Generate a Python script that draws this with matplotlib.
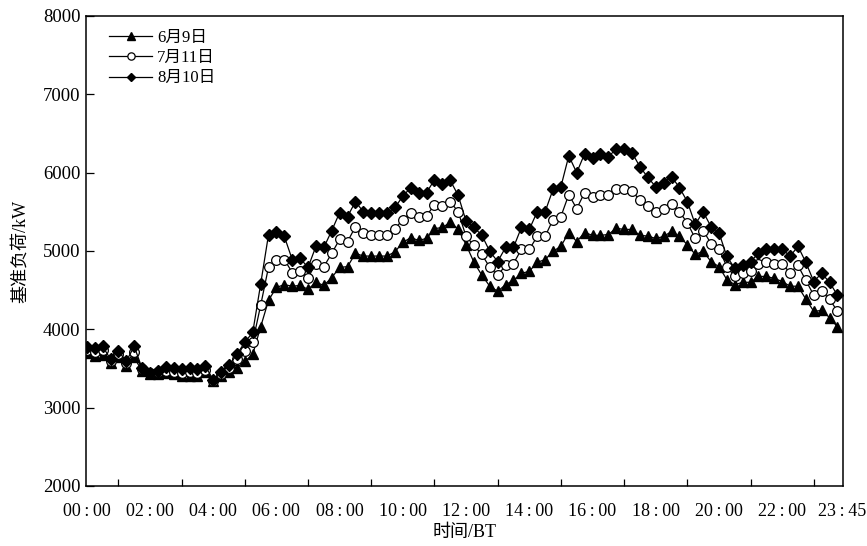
import matplotlib
matplotlib.use("Agg")
import matplotlib.pyplot as plt

plt.rcParams['font.family'] = ['Liberation Serif', 'Noto Sans CJK SC']

labels = ["6月9日", "7月11日", "8月10日"]

load_0609 = [3700, 3660, 3670, 3570, 3640, 3530, 3640, 3465, 3430, 3430, 3440, 3430,
             3400, 3410, 3400, 3450, 3340, 3400, 3450, 3510, 3590, 3680, 4030, 4370,
             4535, 4570, 4550, 4560, 4510, 4600, 4560, 4660, 4790, 4800, 4970, 4935,
             4935, 4935, 4935, 4990, 5110, 5170, 5135, 5160, 5285, 5300, 5365, 5280,
             5080, 4855, 4690, 4550, 4485, 4570, 4625, 4715, 4740, 4855, 4890, 4995,
             5060, 5235, 5120, 5235, 5200, 5200, 5210, 5290, 5275, 5275, 5200, 5190,
             5160, 5185, 5250, 5185, 5080, 4955, 4995, 4865, 4800, 4635, 4570, 4600,
             4600, 4675, 4675, 4650, 4610, 4550, 4550, 4385, 4230, 4240, 4150, 4030]

load_0711 = [3730, 3715, 3730, 3600, 3680, 3567, 3707, 3490, 3440, 3450, 3470, 3455,
             3440, 3450, 3440, 3480, 3345, 3430, 3500, 3620, 3720, 3835, 4305, 4795,
             4880, 4890, 4725, 4745, 4660, 4840, 4800, 4970, 5150, 5120, 5310, 5235,
             5210, 5210, 5210, 5285, 5400, 5490, 5440, 5450, 5590, 5580, 5630, 5500,
             5185, 5070, 4955, 4790, 4690, 4815, 4840, 5020, 5020, 5185, 5185, 5400,
             5440, 5720, 5540, 5745, 5695, 5720, 5710, 5795, 5790, 5770, 5645, 5570,
             5500, 5540, 5605, 5500, 5360, 5160, 5260, 5095, 5030, 4800, 4675, 4725,
             4740, 4830, 4855, 4840, 4830, 4725, 4815, 4625, 4435, 4485, 4385, 4230]

load_0810 = [3770, 3758, 3783, 3618, 3720, 3592, 3783, 3500, 3445, 3465, 3515, 3500,
             3490, 3500, 3490, 3530, 3355, 3450, 3540, 3680, 3835, 3960, 4575, 5210,
             5236, 5185, 4890, 4905, 4790, 5060, 5045, 5260, 5490, 5440, 5630, 5500,
             5490, 5480, 5480, 5555, 5700, 5810, 5735, 5745, 5910, 5850, 5900, 5710,
             5380, 5300, 5200, 4995, 4865, 5045, 5045, 5300, 5275, 5500, 5500, 5785,
             5820, 6215, 6000, 6240, 6190, 6240, 6200, 6305, 6305, 6255, 6075, 5940,
             5820, 5870, 5950, 5810, 5630, 5340, 5500, 5310, 5235, 4930, 4780, 4815,
             4865, 4970, 5030, 5030, 5030, 4930, 5060, 4855, 4610, 4715, 4600, 4435]

xtick_pos = [0, 8, 16, 24, 32, 40, 48, 56, 64, 72, 80, 88, 95.6]
xtick_labels = ["00\u2009:\u200900", "02\u2009:\u200900", "04\u2009:\u200900",
                "06\u2009:\u200900", "08\u2009:\u200900", "10\u2009:\u200900",
                "12\u2009:\u200900", "14\u2009:\u200900", "16\u2009:\u200900",
                "18\u2009:\u200900", "20\u2009:\u200900", "22\u2009:\u200900",
                "23\u2009:\u200945"]
yticks = [2000, 3000, 4000, 5000, 6000, 7000, 8000]

fig = plt.figure(figsize=(8.67, 5.46), dpi=100)
ax = fig.add_axes([0.0992, 0.110, 0.8731, 0.8607])

x = list(range(len(load_0609)))
ax.plot(x, load_0609, '-', color='black', lw=0.9, marker='^', ms=7,
        mfc='black', mec='black', label=labels[0])
ax.plot(x, load_0711, '-', color='black', lw=0.9, marker='o', ms=7,
        mfc='white', mec='black', mew=0.9, label=labels[1])
ax.plot(x, load_0810, '-', color='black', lw=0.9, marker='D', ms=6,
        mfc='black', mec='black', label=labels[2])

ax.set_xlim(-0.1, 95.7)
ax.set_ylim(2000, 8000)
ax.set_yticks(yticks)
ax.set_yticklabels([str(v) for v in yticks], fontsize=13.5)
ax.set_xticks(xtick_pos)
ax.set_xticklabels(xtick_labels, fontsize=13)
ax.set_xticks(list(range(4, 96, 4)), minor=True)
ax.tick_params(axis='x', which='minor', direction='in', length=5, width=0.9)
ax.tick_params(axis='x', which='major', direction='in', length=0, pad=12)
ax.tick_params(axis='y', direction='in', length=6, width=0.9, pad=4)
for s in ax.spines.values():
    s.set_linewidth(1.1)

ax.set_xlabel("时间/BT", fontsize=13, labelpad=3)
ax.set_ylabel("基准负荷/kW", fontsize=13, labelpad=10)

leg = ax.legend(loc='upper left', bbox_to_anchor=(0.015, 0.995), frameon=False,
                fontsize=12, handlelength=2.6, handletextpad=0.3,
                labelspacing=0.25, borderaxespad=0.3, markerscale=0.75)

fig.savefig("out.png", dpi=100)
